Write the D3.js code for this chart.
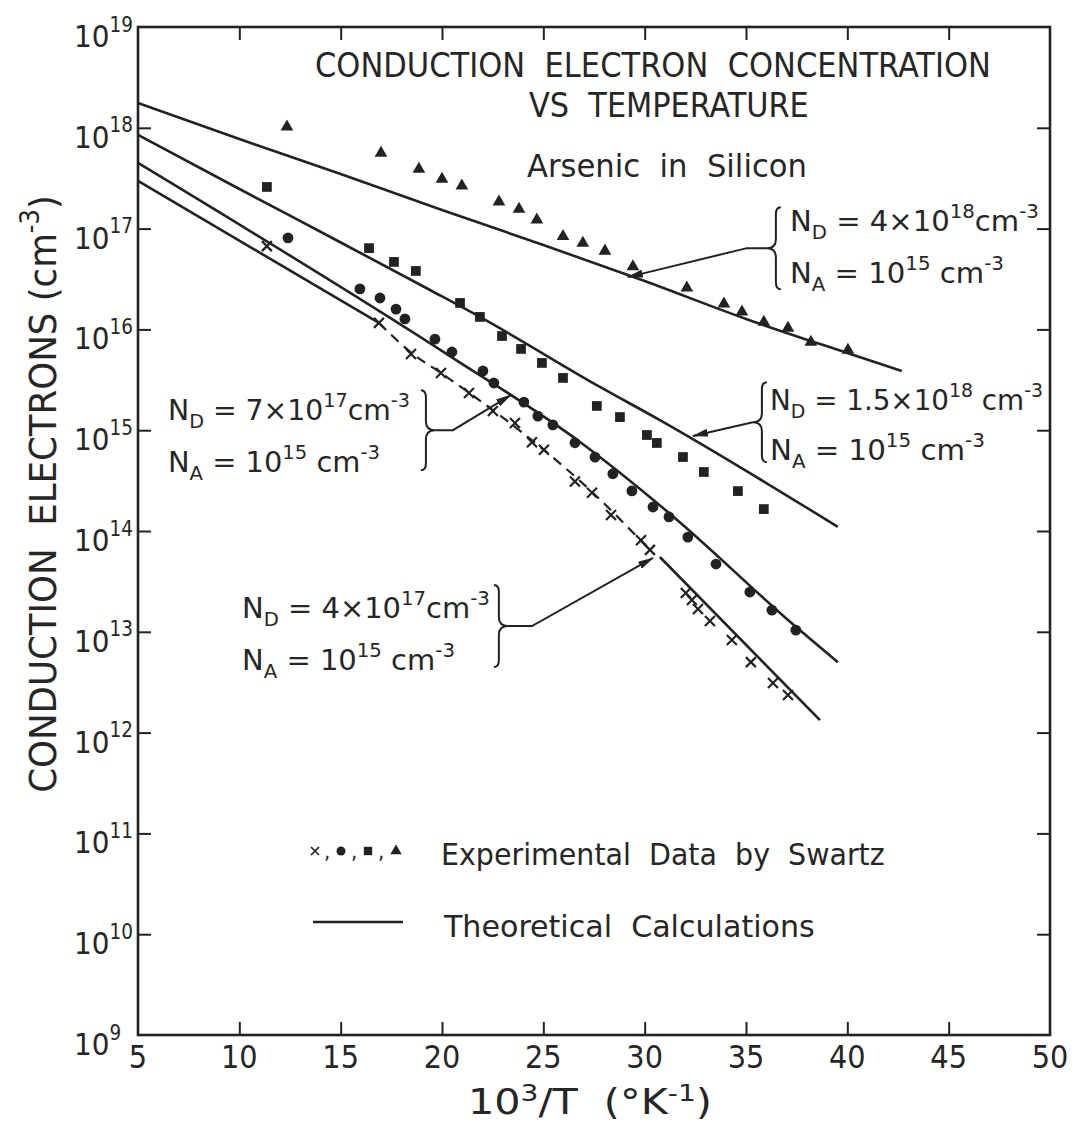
<!DOCTYPE html>
<html>
<head>
<meta charset="utf-8">
<script src="https://cdn.jsdelivr.net/npm/d3@7"></script>
<style>
  body { margin: 0; background: #fff; }
  svg { display: block; background: #fff; }
  text { font-family: "DejaVu Sans Condensed", "Liberation Sans Narrow", "DejaVu Sans", sans-serif; fill: #262626; }
</style>
</head>
<body>
<svg width="1081" height="1124"></svg>
<script>
// axis values
const xTickValues = [5, 10, 15, 20, 25, 30, 35, 40, 45, 50]
const yExponents = [9, 10, 11, 12, 13, 14, 15, 16, 17, 18, 19]

// experimental data by Swartz: [10^3/T, electrons per cm^3]
const triangles = [
  [12.35, 1.02e18], [16.99, 5.6e17], [18.86, 3.9e17], [20.0, 3.1e17], [20.98, 2.65e17],
  [22.81, 1.84e17], [23.8, 1.56e17], [24.68, 1.22e17], [25.97, 8.4e16], [26.95, 7.2e16],
  [28.04, 6.0e16], [29.42, 4.2e16], [32.08, 2.58e16], [33.91, 1.79e16], [34.8, 1.49e16],
  [35.88, 1.18e16], [37.07, 1.03e16], [38.2, 7.5e15], [40.03, 6.25e15]
]
const squares = [
  [11.36, 2.59e17], [16.4, 6.4e16], [17.63, 4.67e16], [18.71, 3.8e16], [20.89, 1.83e16],
  [21.87, 1.33e16], [22.96, 8.6e15], [23.9, 6.4e15], [24.93, 4.65e15], [25.97, 3.3e15],
  [27.64, 1.74e15], [28.78, 1.35e15], [30.11, 8.96e14], [30.6, 7.47e14], [31.89, 5.42e14],
  [32.92, 3.85e14], [34.6, 2.49e14], [35.88, 1.65e14]
]
const circles = [
  [12.4, 8.1e16], [15.95, 2.52e16], [16.94, 2.05e16], [17.73, 1.59e16], [18.17, 1.27e16],
  [19.65, 8.0e15], [20.49, 5.97e15], [22.02, 3.87e15], [22.56, 2.94e15], [24.04, 1.9e15],
  [24.73, 1.38e15], [25.47, 1.13e15], [26.56, 7.5e14], [27.55, 5.4e14], [28.43, 3.7e14],
  [29.37, 2.5e14], [30.41, 1.73e14], [31.2, 1.38e14], [32.13, 8.7e13], [33.52, 4.7e13],
  [35.19, 2.48e13], [36.28, 1.64e13], [37.46, 1.04e13]
]
const crosses = [
  [11.36, 6.7e16], [16.89, 1.16e16], [18.47, 5.7e15], [19.95, 3.7e15], [21.33, 2.34e15],
  [22.51, 1.55e15], [23.6, 1.18e15], [24.44, 7.6e14], [25.03, 6.4e14], [26.56, 3.1e14],
  [27.4, 2.4e14], [28.34, 1.44e14], [29.82, 8.1e13], [30.26, 6.5e13], [32.03, 2.43e13],
  [32.33, 2.07e13], [32.63, 1.68e13], [33.22, 1.28e13], [34.3, 8.3e12], [35.24, 5.0e12],
  [36.33, 3.1e12], [37.07, 2.36e12]
]

// theoretical calculations
const theory4e18 = [
  [5, 1.76e18], [10, 7.74e17], [15, 3.48e17], [20, 1.53e17], [25, 6.88e16],
  [30, 3.02e16], [35, 1.27e16], [40, 5.83e15], [42.69, 3.87e15]
]
const theory15e17 = [
  [5, 8.5e17], [9.54, 2.77e17], [14.47, 8.3e16], [19.41, 2.46e16], [21.87, 1.33e16],
  [27.79, 2.69e15], [30.75, 1.26e15], [39.53, 1.1e14]
]
const theory7e17 = [
  [5, 4.48e17], [20.39, 5.44e15], [26.81, 7.64e14], [31.2, 1.51e14], [37.46, 1.12e13],
  [39.53, 5.0e12]
]
const theory4e17 = [
  [5, 2.97e17], [16.89, 1.16e16], [18.47, 5.9e15], [19.95, 3.69e15], [22.51, 1.58e15],
  [25.03, 6.37e14], [27.4, 2.44e14], [30.26, 6.47e13], [30.75, 5.52e13], [38.65, 1.33e12]
]
const dashed4e17 = [16.89, 30.26] // drawn dashed through the crosses

// annotation arrows: brace tip -> curve
const arrow4e18 = [[36.03, 6.4e16], [35.04, 6.4e16], [29.17, 3.3e16]]
const arrow15e17 = [[35.34, 1.2e15], [32.38, 8.75e14]]
const arrow7e17 = [[19.65, 1.0e15], [20.54, 1.0e15], [23.4, 2.23e15]]
const arrow4e17 = [[23.25, 1.14e13], [24.44, 1.14e13], [30.41, 5.4e13]]

const ink = '#222'
const svg = d3.select('svg')
const x = d3.scaleLinear().domain([5, 50]).range([138, 1050])
const y = d3.scaleLog().domain([1e9, 1e19]).range([1035, 27])

// text with ^{sup} and _{sub}
function parseParts(s) {
  const out = []
  s.replace(/(\^|_)\{([^}]*)\}|[^^_]+/g, (m, k, inner) => {
    if (k === '^') out.push({ t: inner, sup: true })
    else if (k === '_') out.push({ t: inner, sub: true })
    else out.push({ t: m })
  })
  return out
}

function fitWidth(t, w, ax) {
  const n = t.node().getComputedTextLength()
  if (!n || !w) return
  t.attr('transform', `translate(${ax},0) scale(${w / n},1) translate(${-ax},0)`)
}

function rich(parent, px, py, str, size, opts = {}) {
  const t = parent.append('text')
    .attr('x', px).attr('y', py)
    .attr('font-size', size)
    .attr('text-anchor', opts.anchor || 'start')
    .style('white-space', 'pre')
  let cur = 0
  parseParts(str).forEach(p => {
    const off = p.sup ? -(opts.rise || 0.45) * size : p.sub ? 0.3 * size : 0
    t.append('tspan')
      .attr('dy', off - cur)
      .attr('font-size', p.sup || p.sub ? size * (opts.small || 0.68) : size)
      .text(p.t)
    cur = off
  })
  if (opts.width) fitWidth(t, opts.width, px)
  return t
}

// frame
svg.append('rect')
  .attr('x', x(5)).attr('y', y(1e19))
  .attr('width', x(50) - x(5)).attr('height', y(1e9) - y(1e19))
  .attr('fill', 'none').attr('stroke', ink).attr('stroke-width', 2.6)

const innerX = xTickValues.slice(1, -1)
const innerY = yExponents.slice(1, -1).map(e => Math.pow(10, e))
const tk = 13
function styleAxis(g) {
  g.select('.domain').remove()
  g.selectAll('text').remove()
  g.selectAll('line').attr('stroke', ink).attr('stroke-width', 2)
}
svg.append('g').attr('transform', `translate(0,${y(1e9)})`)
  .call(d3.axisBottom(x).tickValues(innerX).tickSize(-tk)).call(styleAxis)
svg.append('g').attr('transform', `translate(0,${y(1e19)})`)
  .call(d3.axisTop(x).tickValues(innerX).tickSize(-tk)).call(styleAxis)
svg.append('g').attr('transform', `translate(${x(5)},0)`)
  .call(d3.axisLeft(y).tickValues(innerY).tickSize(-tk)).call(styleAxis)
svg.append('g').attr('transform', `translate(${x(50)},0)`)
  .call(d3.axisRight(y).tickValues(innerY).tickSize(-tk)).call(styleAxis)

// tick labels
const labels = svg.append('g')
xTickValues.forEach(v => {
  labels.append('text').attr('x', x(v)).attr('y', y(1e9) + 33)
    .attr('font-size', 32).attr('text-anchor', 'middle').text(v)
})
yExponents.forEach(e => {
  rich(labels, 74, y(Math.pow(10, e)) + 20, `10^{${e}}`, 31, { rise: 0.5, small: 0.66 })
})

// axis titles
rich(svg, 468, 1114, '10^{3}/T  (°K^{-1})', 35, { width: 244, rise: 0.38 })
const yt = svg.append('g').attr('transform', 'translate(56,494) rotate(-90)')
rich(yt, 0, 0, 'CONDUCTION  ELECTRONS (cm^{-3})', 38, { anchor: 'middle', width: 598 })

// titles
rich(svg, 315, 77, 'CONDUCTION  ELECTRON  CONCENTRATION', 33, { width: 676 })
rich(svg, 529, 117, 'VS  TEMPERATURE', 33, { width: 280 })
rich(svg, 527, 177, 'Arsenic  in  Silicon', 32, { width: 280 })

// theoretical curves
const line = d3.line().x(d => x(d[0])).y(d => y(d[1])).curve(d3.curveMonotoneX)
const curves = svg.append('g').attr('fill', 'none').attr('stroke', ink)
  .attr('stroke-width', 2.6).attr('stroke-linejoin', 'round')
;[theory4e18, theory15e17, theory7e17].forEach(c => curves.append('path').attr('d', line(c)))
curves.append('path').attr('d', line(theory4e17.filter(d => d[0] <= dashed4e17[0])))
curves.append('path').attr('d', line(theory4e17.filter(d => d[0] >= dashed4e17[0] && d[0] <= dashed4e17[1])))
  .attr('stroke-dasharray', '10,7').attr('stroke-width', 2.2)
curves.append('path').attr('d', line(theory4e17.filter(d => d[0] > dashed4e17[1])))

// experimental points
const pts = svg.append('g').attr('fill', ink)
const at = d => `translate(${x(d[0])},${y(d[1])})`
pts.selectAll('.tri').data(triangles).join('path').attr('class', 'tri')
  .attr('d', d3.symbol(d3.symbolTriangle, 70)).attr('transform', at)
pts.selectAll('.sq').data(squares).join('path').attr('class', 'sq')
  .attr('d', d3.symbol(d3.symbolSquare, 95)).attr('transform', at)
pts.selectAll('circle').data(circles).join('circle')
  .attr('cx', d => x(d[0])).attr('cy', d => y(d[1])).attr('r', 5.4)
const crossPath = 'M-5,-5L5,5M-5,5L5,-5'
pts.selectAll('.x').data(crosses).join('path').attr('class', 'x')
  .attr('d', crossPath).attr('transform', at)
  .attr('fill', 'none').attr('stroke', ink).attr('stroke-width', 2.2)

// arrows and braces
svg.append('defs').append('marker')
  .attr('id', 'head').attr('viewBox', '0 0 16 8').attr('refX', 15).attr('refY', 4)
  .attr('markerWidth', 16).attr('markerHeight', 8)
  .attr('markerUnits', 'userSpaceOnUse').attr('orient', 'auto')
  .append('path').attr('d', 'M0,0L16,4L0,8Z').attr('fill', ink)

const ann = svg.append('g').attr('fill', 'none').attr('stroke', ink).attr('stroke-width', 2)
const straight = d3.line().x(d => x(d[0])).y(d => y(d[1]))

function brace(tip, dir, w, h) {
  const tx = x(tip[0]), ty = y(tip[1])
  const x0 = tx - dir * w
  const e = x0 - dir * 5
  return `M${e},${ty - h}Q${x0},${ty - h} ${x0},${ty - h + 7}` +
    `L${x0},${ty - 9}Q${x0},${ty} ${tx},${ty}` +
    `Q${x0},${ty} ${x0},${ty + 9}L${x0},${ty + h - 7}` +
    `Q${x0},${ty + h} ${e},${ty + h}`
}

;[
  { a: arrow4e18, dir: -1, h: 41 },
  { a: arrow15e17, dir: -1, h: 40 },
  { a: arrow7e17, dir: 1, h: 40 },
  { a: arrow4e17, dir: 1, h: 41 }
].forEach(b => {
  ann.append('path').attr('d', straight(b.a)).attr('marker-end', 'url(#head)')
  ann.append('path').attr('d', brace(b.a[0], b.dir, 9, b.h))
})

// curve labels
const lab = svg.append('g')
rich(lab, 790, 231, 'N_{D} = 4×10^{18}cm^{-3}', 28, { width: 249 })
rich(lab, 790, 283, 'N_{A} = 10^{15} cm^{-3}', 28, { width: 214 })
rich(lab, 770, 410, 'N_{D} = 1.5×10^{18} cm^{-3}', 28, { width: 273 })
rich(lab, 770, 460, 'N_{A} = 10^{15} cm^{-3}', 28, { width: 215 })
rich(lab, 168, 420, 'N_{D} = 7×10^{17}cm^{-3}', 28, { width: 242 })
rich(lab, 168, 472, 'N_{A} = 10^{15} cm^{-3}', 28, { width: 212 })
rich(lab, 242, 618, 'N_{D} = 4×10^{17}cm^{-3}', 28, { width: 248 })
rich(lab, 242, 670, 'N_{A} = 10^{15} cm^{-3}', 28, { width: 213 })

// legend
const leg = svg.append('g')
const legY = 851
leg.append('path').attr('d', crossPath).attr('transform', `translate(315,${legY}) scale(0.8)`)
  .attr('fill', 'none').attr('stroke', ink).attr('stroke-width', 2.2)
leg.append('circle').attr('cx', 341).attr('cy', legY).attr('r', 4.5).attr('fill', ink)
leg.append('path').attr('d', d3.symbol(d3.symbolSquare, 70)).attr('transform', `translate(368,${legY})`).attr('fill', ink)
leg.append('path').attr('d', d3.symbol(d3.symbolTriangle, 56)).attr('transform', `translate(396,${legY})`).attr('fill', ink)
;[324, 351, 378].forEach(cx => leg.append('text').attr('x', cx).attr('y', legY + 8).attr('font-size', 22).text(','))
rich(leg, 441, 865, 'Experimental  Data  by  Swartz', 30, { width: 444 })
leg.append('line').attr('x1', 313).attr('x2', 403).attr('y1', 922).attr('y2', 922)
  .attr('stroke', ink).attr('stroke-width', 2.6)
rich(leg, 444, 937, 'Theoretical  Calculations', 30, { width: 371 })
</script>
</body>
</html>
